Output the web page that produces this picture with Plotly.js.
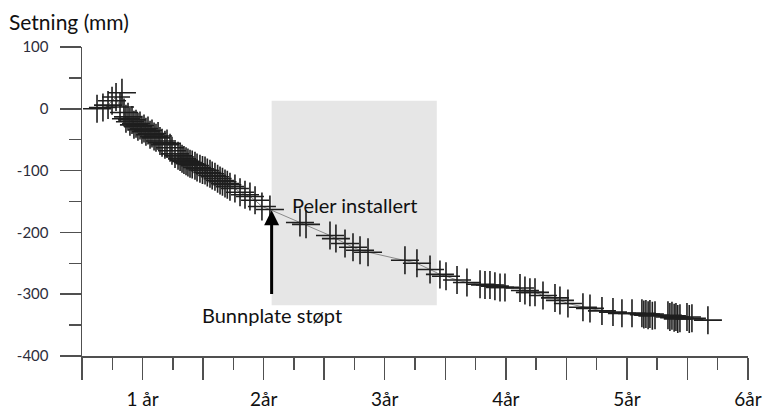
<!DOCTYPE html>
<html>
<head>
<meta charset="utf-8">
<script src="https://cdn.plot.ly/plotly-3.0.1.min.js"></script>
<style>html,body{margin:0;padding:0;background:#fff;}#chart{width:772px;height:412px;}</style>
</head>
<body>
<div id="chart"></div>
<script>
// time in years
const timeYears = [0.624,0.673,0.715,0.748,0.781,0.814,0.830,0.847,0.863,0.880,
  0.896,0.913,0.929,0.946,0.962,0.979,0.995,1.012,1.028,1.045,
  1.062,1.078,1.095,1.111,1.128,1.144,1.161,1.185,1.202,1.227,
  1.243,1.268,1.293,1.310,1.326,1.342,1.359,1.375,1.392,1.410,
  1.433,1.450,1.474,1.495,1.516,1.535,1.557,1.575,1.598,1.620,
  1.640,1.660,1.681,1.700,1.722,1.763,1.805,1.846,1.887,1.929,
  1.986,2.052,2.300,2.350,2.548,2.597,2.672,2.738,2.796,2.862,
  3.167,3.266,3.374,3.456,3.506,3.597,3.679,3.787,3.828,3.869,
  3.910,3.952,3.993,4.117,4.158,4.199,4.241,4.307,4.406,4.447,
  4.513,4.637,4.695,4.794,4.885,4.959,5.042,5.124,5.140,5.157,
  5.175,5.190,5.210,5.232,5.339,5.355,5.372,5.390,5.405,5.420,
  5.438,5.496,5.515,5.537,5.669];
// settlement in mm
const settlementMm = [0,2,6,13,19,3,26,-6,-16,-13,
  -21,-18,-26,-24,-29,-27,-34,-32,-37,-35,
  -42,-40,-45,-47,-44,-52,-55,-58,-56,-63,
  -68,-73,-76,-78,-81,-83,-85,-87,-89,-90,
  -92,-95,-97,-99,-100,-103,-105,-108,-110,-113,
  -116,-118,-121,-123,-126,-129,-135,-139,-142,-148,
  -158,-163,-184,-187,-205,-210,-218,-224,-229,-232,
  -245,-250,-260,-268,-271,-277,-281,-284,-285,-285,
  -287,-289,-289,-290,-294,-297,-297,-302,-306,-310,
  -315,-321,-323,-327,-329,-331,-331,-331,-333,-332,
  -334,-332,-335,-334,-334,-337,-335,-338,-337,-340,
  -339,-337,-340,-339,-342];

const xTickVals = [0.5,1,1.5,2,2.5,3,3.5,4,4.5,5,5.5,6];
const xTickText = ['','1 år','','2år','','3år','','4år','','5år','','6år'];
const yTickVals = [-400,-300,-200,-100,0,100];
const yTickText = ['-400','-300','-200','-100','0','100'];

const pileWindow = {x0:2.066, x1:3.43, y0:-318, y1:13};
const baseplateCast = {x:2.066, y:-164, yBase:-302};
const labelPeler = {text:'Peler installert', x:2.754, y:-155};
const labelBunnplate = {text:'Bunnplate støpt', x:2.069, y:-334};

const FONT = 'Lato, "Open Sans", sans-serif';

const trace = {
  x: timeYears, y: settlementMm, type:'scatter', mode:'lines+markers',
  line:{color:'#8a8a8a', width:1},
  marker:{symbol:'cross-thin-open', size:20, color:'#1e1e1e', line:{color:'#1e1e1e', width:1.6}},
  hoverinfo:'skip', showlegend:false
};

const layout = {
  width:772, height:412,
  margin:{l:82, r:24, t:47, b:56},
  paper_bgcolor:'#fff', plot_bgcolor:'#fff',
  font:{family:FONT, color:'#000'},
  title:{text:'Setning (mm)', x:9/772, xref:'container', xanchor:'left',
    y:1-23/412, yref:'container', yanchor:'middle', font:{size:21, family:FONT, color:'#111'}},
  xaxis:{range:[0.5,6], showgrid:false, zeroline:false, showline:true, linecolor:'#505050', linewidth:1.5,
    tickmode:'array', tickvals:xTickVals, ticktext:xTickText,
    ticks:'outside', ticklen:22, tickwidth:1.5, tickcolor:'#505050',
    ticklabelstandoff:4,
    tickfont:{size:19, family:FONT, color:'#111'},
    minor:{tickmode:'linear', tick0:0, dtick:0.25, ticks:'outside', ticklen:12, tickwidth:1.5, tickcolor:'#505050', showgrid:false}
  },
  yaxis:{range:[-400,100], showgrid:false, zeroline:false, showline:true, linecolor:'#505050', linewidth:1.5,
    tickmode:'array', tickvals:yTickVals, ticktext:yTickText,
    ticks:'outside', ticklen:21, tickwidth:1.5, tickcolor:'#505050',
    ticklabelstandoff:8,
    tickfont:{size:15, family:FONT, color:'#2d2d3a'},
    minor:{tickmode:'linear', tick0:-400, dtick:50, ticks:'outside', ticklen:12, tickwidth:1.5, tickcolor:'#505050', showgrid:false}
  },
  shapes:[{type:'rect', xref:'x', yref:'y', x0:pileWindow.x0, x1:pileWindow.x1, y0:pileWindow.y0, y1:pileWindow.y1,
    fillcolor:'#e6e6e6', line:{width:0}, layer:'below'}],
  annotations:[
    {x:baseplateCast.x, y:baseplateCast.y, xref:'x', yref:'y', ax:baseplateCast.x, ay:baseplateCast.yBase,
      axref:'x', ayref:'y', showarrow:true, arrowhead:2, arrowsize:1, arrowwidth:3, arrowcolor:'#000', text:''},
    {x:labelPeler.x, y:labelPeler.y, xref:'x', yref:'y', text:labelPeler.text, showarrow:false,
      font:{size:20, family:FONT, color:'#111'}},
    {x:labelBunnplate.x, y:labelBunnplate.y, xref:'x', yref:'y', text:labelBunnplate.text, showarrow:false,
      font:{size:20, family:FONT, color:'#111'}}
  ]
};

Plotly.newPlot('chart', [trace], layout, {staticPlot:true, displayModeBar:false});
</script>
</body>
</html>
